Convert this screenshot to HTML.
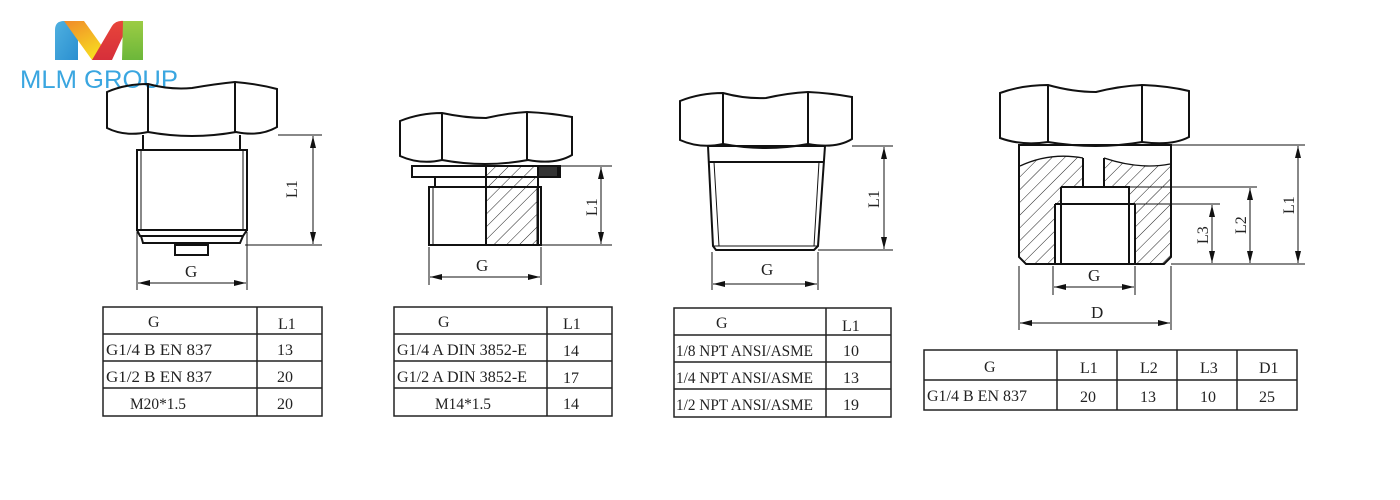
<!DOCTYPE html>
<html><head><meta charset="utf-8"><style>
html,body{margin:0;padding:0;background:#fff;width:1400px;height:500px;overflow:hidden}
svg{display:block}
text{font-family:"Liberation Serif","DejaVu Serif",serif;fill:#222}
</style></head><body>
<svg width="1400" height="500" viewBox="0 0 1400 500" xmlns="http://www.w3.org/2000/svg">
<defs>
<linearGradient id="gb" x1="0" y1="0" x2="1" y2="1"><stop offset="0" stop-color="#4fb0e0"/><stop offset="1" stop-color="#2a8fd0"/></linearGradient>
<linearGradient id="g2" x1="0" y1="0" x2="0.6" y2="1"><stop offset="0" stop-color="#f08a2a"/><stop offset="1" stop-color="#f8e020"/></linearGradient>
<linearGradient id="gr" x1="0" y1="0" x2="0" y2="1"><stop offset="0" stop-color="#e8453a"/><stop offset="1" stop-color="#d62f3a"/></linearGradient>
<linearGradient id="gg" x1="0" y1="0" x2="0" y2="1"><stop offset="0" stop-color="#9ccc44"/><stop offset="1" stop-color="#6cb73a"/></linearGradient>
<pattern id="hatch" width="9" height="9" patternUnits="userSpaceOnUse" patternTransform="rotate(45)"><line x1="0" y1="0" x2="0" y2="9" stroke="#222" stroke-width="1"/></pattern>
<marker id="ar" viewBox="0 0 12 6" refX="12" refY="3" markerWidth="12" markerHeight="6" orient="auto-start-reverse" markerUnits="userSpaceOnUse"><path d="M0,0 L12,3 L0,6 z" fill="#111"/></marker>
</defs>

<!-- Logo -->
<path d="M55,30 Q55,21 64,21 L78,21 L78,60 L55,60 Z" fill="url(#gb)"/>
<path d="M64,21 L84,21 L112,60 L92,60 Z" fill="url(#g2)"/>
<path d="M92,60 L112,26 Q116,20 124,21 L130,21 L112,60 Z" fill="url(#gr)"/>
<path d="M123,21 L143,21 L143,60 L122,60 Z" fill="url(#gg)"/>
<text x="20" y="88" style="font-family:'Liberation Sans',sans-serif;font-size:25px;fill:#3aa6e0" textLength="158" lengthAdjust="spacingAndGlyphs">MLM GROUP</text>

<g fill="none" stroke="#111" stroke-width="2">
<!-- Drawing 1 -->
<path d="M107,92 Q125,84 148,84 Q170,90 192,88 Q215,84 235,82 Q258,84 277,89 L277,127 Q260,137 236,132 Q192,140 148,132 Q125,137 107,128 Z"/>
<line x1="148" y1="84" x2="148" y2="132"/><line x1="235" y1="82" x2="235" y2="132"/>
<path d="M143,135 L143,150 M240,135 L240,150"/>
<rect x="137" y="150" width="110" height="80"/>
<line x1="141" y1="150" x2="141" y2="230" stroke-width="1"/><line x1="243" y1="150" x2="243" y2="230" stroke-width="1"/>
<path d="M137,230 L140,236 L243,236 L247,230 M141,236 L143,243 L240,243 L243,236"/>
<rect x="175" y="245" width="33" height="10"/>
<!-- Drawing 2 -->
<path d="M400,121 Q420,113 442,113 Q465,118 486,118 Q508,113 527,112 Q550,113 572,117 L572,155 Q555,165 528,160 Q485,168 442,160 Q420,165 400,156 Z"/>
<line x1="442" y1="113" x2="442" y2="160"/><line x1="527" y1="112" x2="527" y2="160"/>
<rect x="412" y="166" width="148" height="11"/>
<rect x="486" y="166" width="52" height="79" fill="url(#hatch)"/>
<rect x="538" y="166" width="20" height="11" fill="#333"/>
<path d="M435,177 L435,187 M429,187 L541,187 L541,245 L429,245 Z"/>
<line x1="433" y1="187" x2="433" y2="245" stroke-width="1"/><line x1="537" y1="187" x2="537" y2="245" stroke-width="1"/>
<!-- Drawing 3 -->
<path d="M680,101 Q700,93 723,93 Q745,99 766,98 Q788,93 808,92 Q830,93 852,97 L852,139 Q836,149 808,144 Q766,152 723,144 Q700,149 680,140 Z"/>
<line x1="723" y1="93" x2="723" y2="144"/><line x1="808" y1="92" x2="808" y2="144"/>
<path d="M708,146 L825,146 L818,246 L814,250 L716,250 L713,246 Z"/>
<line x1="709" y1="162" x2="824" y2="162"/>
<path d="M714,162 L719,246 M819,162 L814,246" stroke-width="1"/>
<line x1="713" y1="246" x2="818" y2="246" stroke-width="1"/>
<!-- Drawing 4 -->
<path d="M1000,93 Q1022,85 1048,85 Q1073,92 1096,92 Q1120,86 1142,85 Q1168,86 1189,91 L1189,137 Q1172,146 1142,142 Q1096,150 1048,142 Q1022,146 1000,138 Z"/>
<line x1="1048" y1="85" x2="1048" y2="142"/><line x1="1142" y1="85" x2="1142" y2="142"/>
<path d="M1020,166 Q1050,152 1083,158 L1083,187 L1061,187 L1061,204 L1055,204 L1055,263 L1026,263 L1020,257 Z" fill="url(#hatch)" stroke="none"/>
<path d="M1104,158 Q1140,170 1170,164 L1170,257 L1164,263 L1135,263 L1135,204 L1129,204 L1129,187 L1104,187 Z" fill="url(#hatch)" stroke="none"/>
<path d="M1020,166 Q1050,152 1083,158 M1104,158 Q1140,170 1170,164" stroke-width="1.3"/>
<path d="M1019,145 L1171,145 L1171,257 L1164,264 L1026,264 L1019,257 Z"/>
<path d="M1083,158 L1083,187 M1104,158 L1104,187 M1061,187 L1129,187 L1129,264 M1061,187 L1061,264 M1055,204 L1135,204 M1055,204 L1055,264 M1135,204 L1135,264"/>
</g>

<!-- Dimensions -->
<g stroke="#111" stroke-width="1" fill="none">
<path d="M278,135 L322,135 M245,245 L322,245"/>
<line x1="313" y1="136" x2="313" y2="244" marker-start="url(#ar)" marker-end="url(#ar)"/>
<path d="M137,232 L137,290 M247,232 L247,290"/>
<line x1="138" y1="283" x2="246" y2="283" marker-start="url(#ar)" marker-end="url(#ar)"/>

<path d="M560,166 L612,166 M541,245 L612,245"/>
<line x1="601" y1="167" x2="601" y2="244" marker-start="url(#ar)" marker-end="url(#ar)"/>
<path d="M429,247 L429,285 M541,247 L541,285"/>
<line x1="430" y1="277" x2="540" y2="277" marker-start="url(#ar)" marker-end="url(#ar)"/>

<path d="M852,146 L893,146 M818,250 L893,250"/>
<line x1="884" y1="147" x2="884" y2="249" marker-start="url(#ar)" marker-end="url(#ar)"/>
<path d="M712,252 L712,290 M818,252 L818,290"/>
<line x1="713" y1="284" x2="817" y2="284" marker-start="url(#ar)" marker-end="url(#ar)"/>

<path d="M1171,145 L1305,145 M1129,187 L1257,187 M1135,204 L1220,204 M1171,264 L1305,264"/>
<line x1="1298" y1="146" x2="1298" y2="263" marker-start="url(#ar)" marker-end="url(#ar)"/>
<line x1="1250" y1="188" x2="1250" y2="263" marker-start="url(#ar)" marker-end="url(#ar)"/>
<line x1="1212" y1="205" x2="1212" y2="263" marker-start="url(#ar)" marker-end="url(#ar)"/>
<path d="M1053,266 L1053,295 M1135,266 L1135,295"/>
<line x1="1054" y1="287" x2="1134" y2="287" marker-start="url(#ar)" marker-end="url(#ar)"/>
<path d="M1019,266 L1019,330 M1171,266 L1171,330"/>
<line x1="1020" y1="323" x2="1170" y2="323" marker-start="url(#ar)" marker-end="url(#ar)"/>
</g>
<g font-size="17">
<text x="185" y="277">G</text>
<text x="476" y="271">G</text>
<text x="761" y="275">G</text>
<text x="1088" y="281">G</text>
<text x="1091" y="318">D</text>
<text transform="translate(297,198) rotate(-90)" font-size="16">L1</text>
<text transform="translate(597,216) rotate(-90)" font-size="16">L1</text>
<text transform="translate(879,208) rotate(-90)" font-size="16">L1</text>
<text transform="translate(1294,214) rotate(-90)" font-size="16">L1</text>
<text transform="translate(1246,234) rotate(-90)" font-size="16">L2</text>
<text transform="translate(1208,244) rotate(-90)" font-size="16">L3</text>
</g>

<!-- Tables -->
<g stroke="#222" stroke-width="1.5" fill="none">
<rect x="103" y="307" width="219" height="109"/><path d="M257,307 V416 M103,334 H322 M103,361 H322 M103,388 H322"/>
<rect x="394" y="307" width="218" height="109"/><path d="M547,307 V416 M394,334 H612 M394,361 H612 M394,388 H612"/>
<rect x="674" y="308" width="217" height="109"/><path d="M826,308 V417 M674,335 H891 M674,362 H891 M674,389 H891"/>
<rect x="924" y="350" width="373" height="60"/><path d="M1057,350 V410 M1117,350 V410 M1177,350 V410 M1237,350 V410 M924,380 H1297"/>
</g>
<g font-size="16">
<text x="148" y="327">G</text><text x="278" y="329">L1</text>
<text x="106" y="355" textLength="106" lengthAdjust="spacingAndGlyphs">G1/4 B EN 837</text><text x="277" y="355">13</text>
<text x="106" y="382" textLength="106" lengthAdjust="spacingAndGlyphs">G1/2 B EN 837</text><text x="277" y="382">20</text>
<text x="130" y="409" textLength="56" lengthAdjust="spacingAndGlyphs">M20*1.5</text><text x="277" y="409">20</text>

<text x="438" y="327">G</text><text x="563" y="329">L1</text>
<text x="397" y="355" textLength="130" lengthAdjust="spacingAndGlyphs">G1/4 A DIN 3852-E</text><text x="563" y="356">14</text>
<text x="397" y="382" textLength="130" lengthAdjust="spacingAndGlyphs">G1/2 A DIN 3852-E</text><text x="563" y="383">17</text>
<text x="435" y="409" textLength="56" lengthAdjust="spacingAndGlyphs">M14*1.5</text><text x="563" y="409">14</text>

<text x="716" y="328">G</text><text x="842" y="331">L1</text>
<text x="676" y="356" textLength="137" lengthAdjust="spacingAndGlyphs">1/8 NPT ANSI/ASME</text><text x="843" y="356">10</text>
<text x="676" y="383" textLength="137" lengthAdjust="spacingAndGlyphs">1/4 NPT ANSI/ASME</text><text x="843" y="383">13</text>
<text x="676" y="410" textLength="137" lengthAdjust="spacingAndGlyphs">1/2 NPT ANSI/ASME</text><text x="843" y="410">19</text>

<text x="984" y="372">G</text><text x="1080" y="373">L1</text><text x="1140" y="373">L2</text><text x="1200" y="373">L3</text><text x="1259" y="373">D1</text>
<text x="927" y="401" textLength="100" lengthAdjust="spacingAndGlyphs">G1/4 B EN 837</text>
<text x="1080" y="402">20</text><text x="1140" y="402">13</text><text x="1200" y="402">10</text><text x="1259" y="402">25</text>
</g>
</svg>
</body></html>
